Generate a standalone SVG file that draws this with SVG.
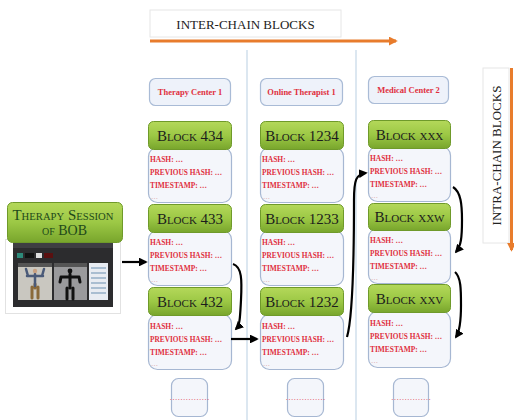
<svg xmlns="http://www.w3.org/2000/svg" width="514" height="420" viewBox="0 0 514 420">
<style>
.sep{stroke:#b9cfe2;stroke-width:1}
.hdr{fill:#eef2fa;stroke:#a9bbd6;stroke-width:1.2}
.hdrt{font-family:"Liberation Serif",serif;font-weight:bold;font-size:8.5px;fill:#e0303e;text-anchor:middle}
.gb{fill:url(#g);stroke:#6f9a2a;stroke-width:1}
.gt{font-family:"Liberation Serif",serif;font-variant:small-caps;font-size:15px;fill:#1c1c1c;text-anchor:middle}
.db{fill:#f4f6fb;stroke:#a6b7d2;stroke-width:1.2}
.dt{font-family:"Liberation Serif",serif;font-weight:bold;font-size:8px;fill:#e0303e}
.dd{font-family:"Liberation Serif",serif;font-size:7px;fill:#d8a0a0}
.dots{font-family:"Liberation Serif",serif;font-size:8px;fill:#e0303e;text-anchor:middle}
.conn{fill:none;stroke:#000;stroke-width:2.2}
.or{stroke:#e87c2c;stroke-width:3;fill:none}
.title{font-family:"Liberation Serif",serif;font-size:13px;fill:#222}
.st{font-family:"Liberation Serif",serif;font-size:14px;font-variant:small-caps;fill:#1f4a1a;text-anchor:middle}
</style>
<defs>
<linearGradient id="g" x1="0" y1="0" x2="0" y2="1">
<stop offset="0" stop-color="#b4d85a"/>
<stop offset="0.5" stop-color="#9cc845"/>
<stop offset="1" stop-color="#78a52c"/>
</linearGradient>
<marker id="ah" viewBox="0 0 10 10" refX="8" refY="5" markerWidth="4" markerHeight="4" orient="auto-start-reverse">
<path d="M0,0 L10,5 L0,10 z" fill="#000"/>
</marker>
<marker id="oh" viewBox="0 0 10 10" refX="8" refY="5" markerWidth="3" markerHeight="3" orient="auto">
<path d="M0,0 L10,5 L0,10 z" fill="#e87c2c"/>
</marker>
</defs>
<rect width="514" height="420" fill="#fff"/>

<g id="inter-chain">
<rect x="150" y="10" width="191" height="27" fill="#fff" stroke="#e6e6e6"/>
<text class="title" x="245.5" y="29" text-anchor="middle">INTER-CHAIN BLOCKS</text>
<line class="or" x1="150" y1="41" x2="396" y2="41" marker-end="url(#oh)"/>
</g>
<g id="intra-chain">
<rect x="483" y="68" width="26" height="175" fill="#fff" stroke="#e6e6e6"/>
<text class="title" transform="translate(501,155.5) rotate(-90)" text-anchor="middle">INTRA-CHAIN BLOCKS</text>
<line class="or" x1="511.5" y1="68" x2="511.5" y2="250" marker-end="url(#oh)"/>
</g>

<g id="separators">
<line class="sep" x1="247" y1="50" x2="247" y2="420"/>
<line class="sep" x1="356" y1="50" x2="356" y2="420"/>
</g>

<g id="h1"><rect class="hdr" x="149.5" y="78.5" width="81" height="27" rx="6"/><text class="hdrt" x="190" y="95">Therapy Center 1</text></g>
<g id="h2"><rect class="hdr" x="260.5" y="78.5" width="82" height="27" rx="6"/><text class="hdrt" x="301.5" y="95">Online Therapist 1</text></g>
<g id="h3"><rect class="hdr" x="368.5" y="76.5" width="80" height="27" rx="6"/><text class="hdrt" x="408.5" y="93">Medical Center 2</text></g>

<!-- column 1 -->
<g id="b434">
<rect class="db" x="148.5" y="147.5" width="83" height="55" rx="9"/>
<rect class="gb" x="148.5" y="121.5" width="83" height="28" rx="5"/>
<text class="gt" x="190" y="141">Block 434</text>
<text class="dt" x="150" y="162" textLength="33" lengthAdjust="spacingAndGlyphs">HASH: …</text><text class="dt" x="150" y="175" textLength="72" lengthAdjust="spacingAndGlyphs">PREVIOUS HASH: …</text><text class="dt" x="150" y="188" textLength="57" lengthAdjust="spacingAndGlyphs">TIMESTAMP: …</text><text class="dd" x="151" y="199">…</text>
</g>
<g id="b433">
<rect class="db" x="148.5" y="230.5" width="83" height="55" rx="9"/>
<rect class="gb" x="148.5" y="204.5" width="83" height="28" rx="5"/>
<text class="gt" x="190" y="224">Block 433</text>
<text class="dt" x="150" y="245" textLength="33" lengthAdjust="spacingAndGlyphs">HASH: …</text><text class="dt" x="150" y="258" textLength="72" lengthAdjust="spacingAndGlyphs">PREVIOUS HASH: …</text><text class="dt" x="150" y="271" textLength="57" lengthAdjust="spacingAndGlyphs">TIMESTAMP: …</text><text class="dd" x="151" y="282">…</text>
</g>
<g id="b432">
<rect class="db" x="148.5" y="314.5" width="83" height="55" rx="9"/>
<rect class="gb" x="148.5" y="287.5" width="83" height="28" rx="5"/>
<text class="gt" x="190" y="307">Block 432</text>
<text class="dt" x="150" y="329" textLength="33" lengthAdjust="spacingAndGlyphs">HASH: …</text><text class="dt" x="150" y="342" textLength="72" lengthAdjust="spacingAndGlyphs">PREVIOUS HASH: …</text><text class="dt" x="150" y="355" textLength="57" lengthAdjust="spacingAndGlyphs">TIMESTAMP: …</text><text class="dd" x="151" y="366">…</text>
</g>
<g id="c1more"><rect class="db" x="171.5" y="378.5" width="36" height="38" rx="7"/><text class="dots" x="189.5" y="400">……………</text></g>

<!-- column 2 -->
<g id="b1234">
<rect class="db" x="260.5" y="147.5" width="83" height="55" rx="9"/>
<rect class="gb" x="260.5" y="121.5" width="83" height="28" rx="5"/>
<text class="gt" x="302" y="141">Block 1234</text>
<text class="dt" x="262" y="162" textLength="33" lengthAdjust="spacingAndGlyphs">HASH: …</text><text class="dt" x="262" y="175" textLength="72" lengthAdjust="spacingAndGlyphs">PREVIOUS HASH: …</text><text class="dt" x="262" y="188" textLength="57" lengthAdjust="spacingAndGlyphs">TIMESTAMP: …</text><text class="dd" x="263" y="199">…</text>
</g>
<g id="b1233">
<rect class="db" x="260.5" y="230.5" width="83" height="55" rx="9"/>
<rect class="gb" x="260.5" y="204.5" width="83" height="28" rx="5"/>
<text class="gt" x="302" y="224">Block 1233</text>
<text class="dt" x="262" y="245" textLength="33" lengthAdjust="spacingAndGlyphs">HASH: …</text><text class="dt" x="262" y="258" textLength="72" lengthAdjust="spacingAndGlyphs">PREVIOUS HASH: …</text><text class="dt" x="262" y="271" textLength="57" lengthAdjust="spacingAndGlyphs">TIMESTAMP: …</text><text class="dd" x="263" y="282">…</text>
</g>
<g id="b1232">
<rect class="db" x="260.5" y="314.5" width="83" height="55" rx="9"/>
<rect class="gb" x="260.5" y="287.5" width="83" height="28" rx="5"/>
<text class="gt" x="302" y="307">Block 1232</text>
<text class="dt" x="262" y="329" textLength="33" lengthAdjust="spacingAndGlyphs">HASH: …</text><text class="dt" x="262" y="342" textLength="72" lengthAdjust="spacingAndGlyphs">PREVIOUS HASH: …</text><text class="dt" x="262" y="355" textLength="57" lengthAdjust="spacingAndGlyphs">TIMESTAMP: …</text><text class="dd" x="263" y="366">…</text>
</g>
<g id="c2more"><rect class="db" x="287.5" y="378.5" width="36" height="38" rx="7"/><text class="dots" x="305.5" y="400">……………</text></g>

<!-- column 3 -->
<g id="bxxx">
<rect class="db" x="368.5" y="146.5" width="82" height="55" rx="9"/>
<rect class="gb" x="368.5" y="120.5" width="82" height="28" rx="5"/>
<text class="gt" x="409.5" y="140">Block xxx</text>
<text class="dt" x="370" y="161" textLength="33" lengthAdjust="spacingAndGlyphs">HASH: …</text><text class="dt" x="370" y="174" textLength="72" lengthAdjust="spacingAndGlyphs">PREVIOUS HASH: …</text><text class="dt" x="370" y="187" textLength="57" lengthAdjust="spacingAndGlyphs">TIMESTAMP: …</text><text class="dd" x="371" y="198">…</text>
</g>
<g id="bxxw">
<rect class="db" x="368.5" y="228.5" width="82" height="55" rx="9"/>
<rect class="gb" x="368.5" y="203.5" width="82" height="27" rx="5"/>
<text class="gt" x="409.5" y="222">Block xxw</text>
<text class="dt" x="370" y="243" textLength="33" lengthAdjust="spacingAndGlyphs">HASH: …</text><text class="dt" x="370" y="256" textLength="72" lengthAdjust="spacingAndGlyphs">PREVIOUS HASH: …</text><text class="dt" x="370" y="269" textLength="57" lengthAdjust="spacingAndGlyphs">TIMESTAMP: …</text><text class="dd" x="371" y="280">…</text>
</g>
<g id="bxxv">
<rect class="db" x="368.5" y="311.5" width="82" height="56" rx="9"/>
<rect class="gb" x="368.5" y="284.5" width="82" height="28" rx="5"/>
<text class="gt" x="409.5" y="304">Block xxv</text>
<text class="dt" x="370" y="326" textLength="33" lengthAdjust="spacingAndGlyphs">HASH: …</text><text class="dt" x="370" y="339" textLength="72" lengthAdjust="spacingAndGlyphs">PREVIOUS HASH: …</text><text class="dt" x="370" y="352" textLength="57" lengthAdjust="spacingAndGlyphs">TIMESTAMP: …</text><text class="dd" x="371" y="363">…</text>
</g>
<g id="c3more"><rect class="db" x="393.5" y="378.5" width="35" height="38" rx="7"/><text class="dots" x="411" y="400">……………</text></g>

<!-- therapy session node -->
<g id="session">
<rect x="5.5" y="239.5" width="115" height="74" fill="#fff" stroke="#e2e2e2"/>
<rect x="13" y="243" width="100" height="64" fill="#2c2c2e"/>
<rect x="13" y="243" width="100" height="5" fill="#3e3e42"/>
<rect x="17" y="253" width="6" height="5" fill="#2d8a7a"/>
<rect x="25" y="253" width="9" height="5" fill="#111"/>
<rect x="36" y="253" width="6" height="5" fill="#ddd"/>
<rect x="44" y="253" width="9" height="5" fill="#5a1010"/>
<rect x="18" y="267" width="34" height="33" fill="#c9c7c0"/>
<rect x="18" y="263" width="34" height="4" fill="#555"/>
<rect x="54" y="267" width="33" height="33" fill="#9a9a9c"/>
<rect x="54" y="263" width="33" height="4" fill="#555"/>
<rect x="89" y="263" width="19" height="37" fill="#e8ecf2"/>
<g stroke="#6b8fb0" stroke-width="1"><line x1="91" y1="268" x2="106" y2="268"/><line x1="91" y1="273" x2="106" y2="273"/><line x1="91" y1="278" x2="106" y2="278"/><line x1="91" y1="283" x2="106" y2="283"/><line x1="91" y1="288" x2="106" y2="288"/><line x1="91" y1="293" x2="106" y2="293"/></g>
<g fill="none" stroke-linecap="round">
<path d="M35,284 L35,288 M32,287 L32,298 M38,287 L38,298" stroke="#8a6a3a" stroke-width="3"/>
<path d="M35,274 L35,286 M28,276 L26,269 M42,276 L44,269 M27,276 L43,276" stroke="#4a5a78" stroke-width="2.5"/>
<circle cx="35" cy="271" r="2.2" fill="#c8a080" stroke="none"/>
<path d="M70,274 L70,288 M67,288 L67,299 M73,288 L73,299 M61,277 L79,277 M61,277 L60,282 M79,277 L80,282" stroke="#111" stroke-width="3"/>
<circle cx="70" cy="271" r="2.4" fill="#111" stroke="none"/>
</g>
<rect x="7.5" y="202.5" width="115" height="40" rx="5" fill="url(#g)" stroke="#6f9a2a"/>
<text class="st" x="63" y="220" textLength="101" lengthAdjust="spacingAndGlyphs">Therapy Session</text>
<text class="st" x="64.5" y="235" textLength="45" lengthAdjust="spacingAndGlyphs">of BOB</text>
</g>

<g id="connectors">
<path class="conn" d="M122,262 L146,262" marker-end="url(#ah)"/>
<path class="conn" d="M233,264 C242,267 242,280 241,300 C240,318 240,325 236,329" marker-end="url(#ah)"/>
<path class="conn" d="M231,339 L257,339" marker-end="url(#ah)"/>
<path class="conn" d="M347,337 C352,320 354,260 354,200 C354,180 356,174 366,173" marker-end="url(#ah)"/>
<path class="conn" d="M453,187 C461,192 462,205 462,220 C462,238 461,246 456,252" marker-end="url(#ah)"/>
<path class="conn" d="M455,272 C461,277 461,290 461,305 C461,322 460,331 456,337" marker-end="url(#ah)"/>
</g>
</svg>
